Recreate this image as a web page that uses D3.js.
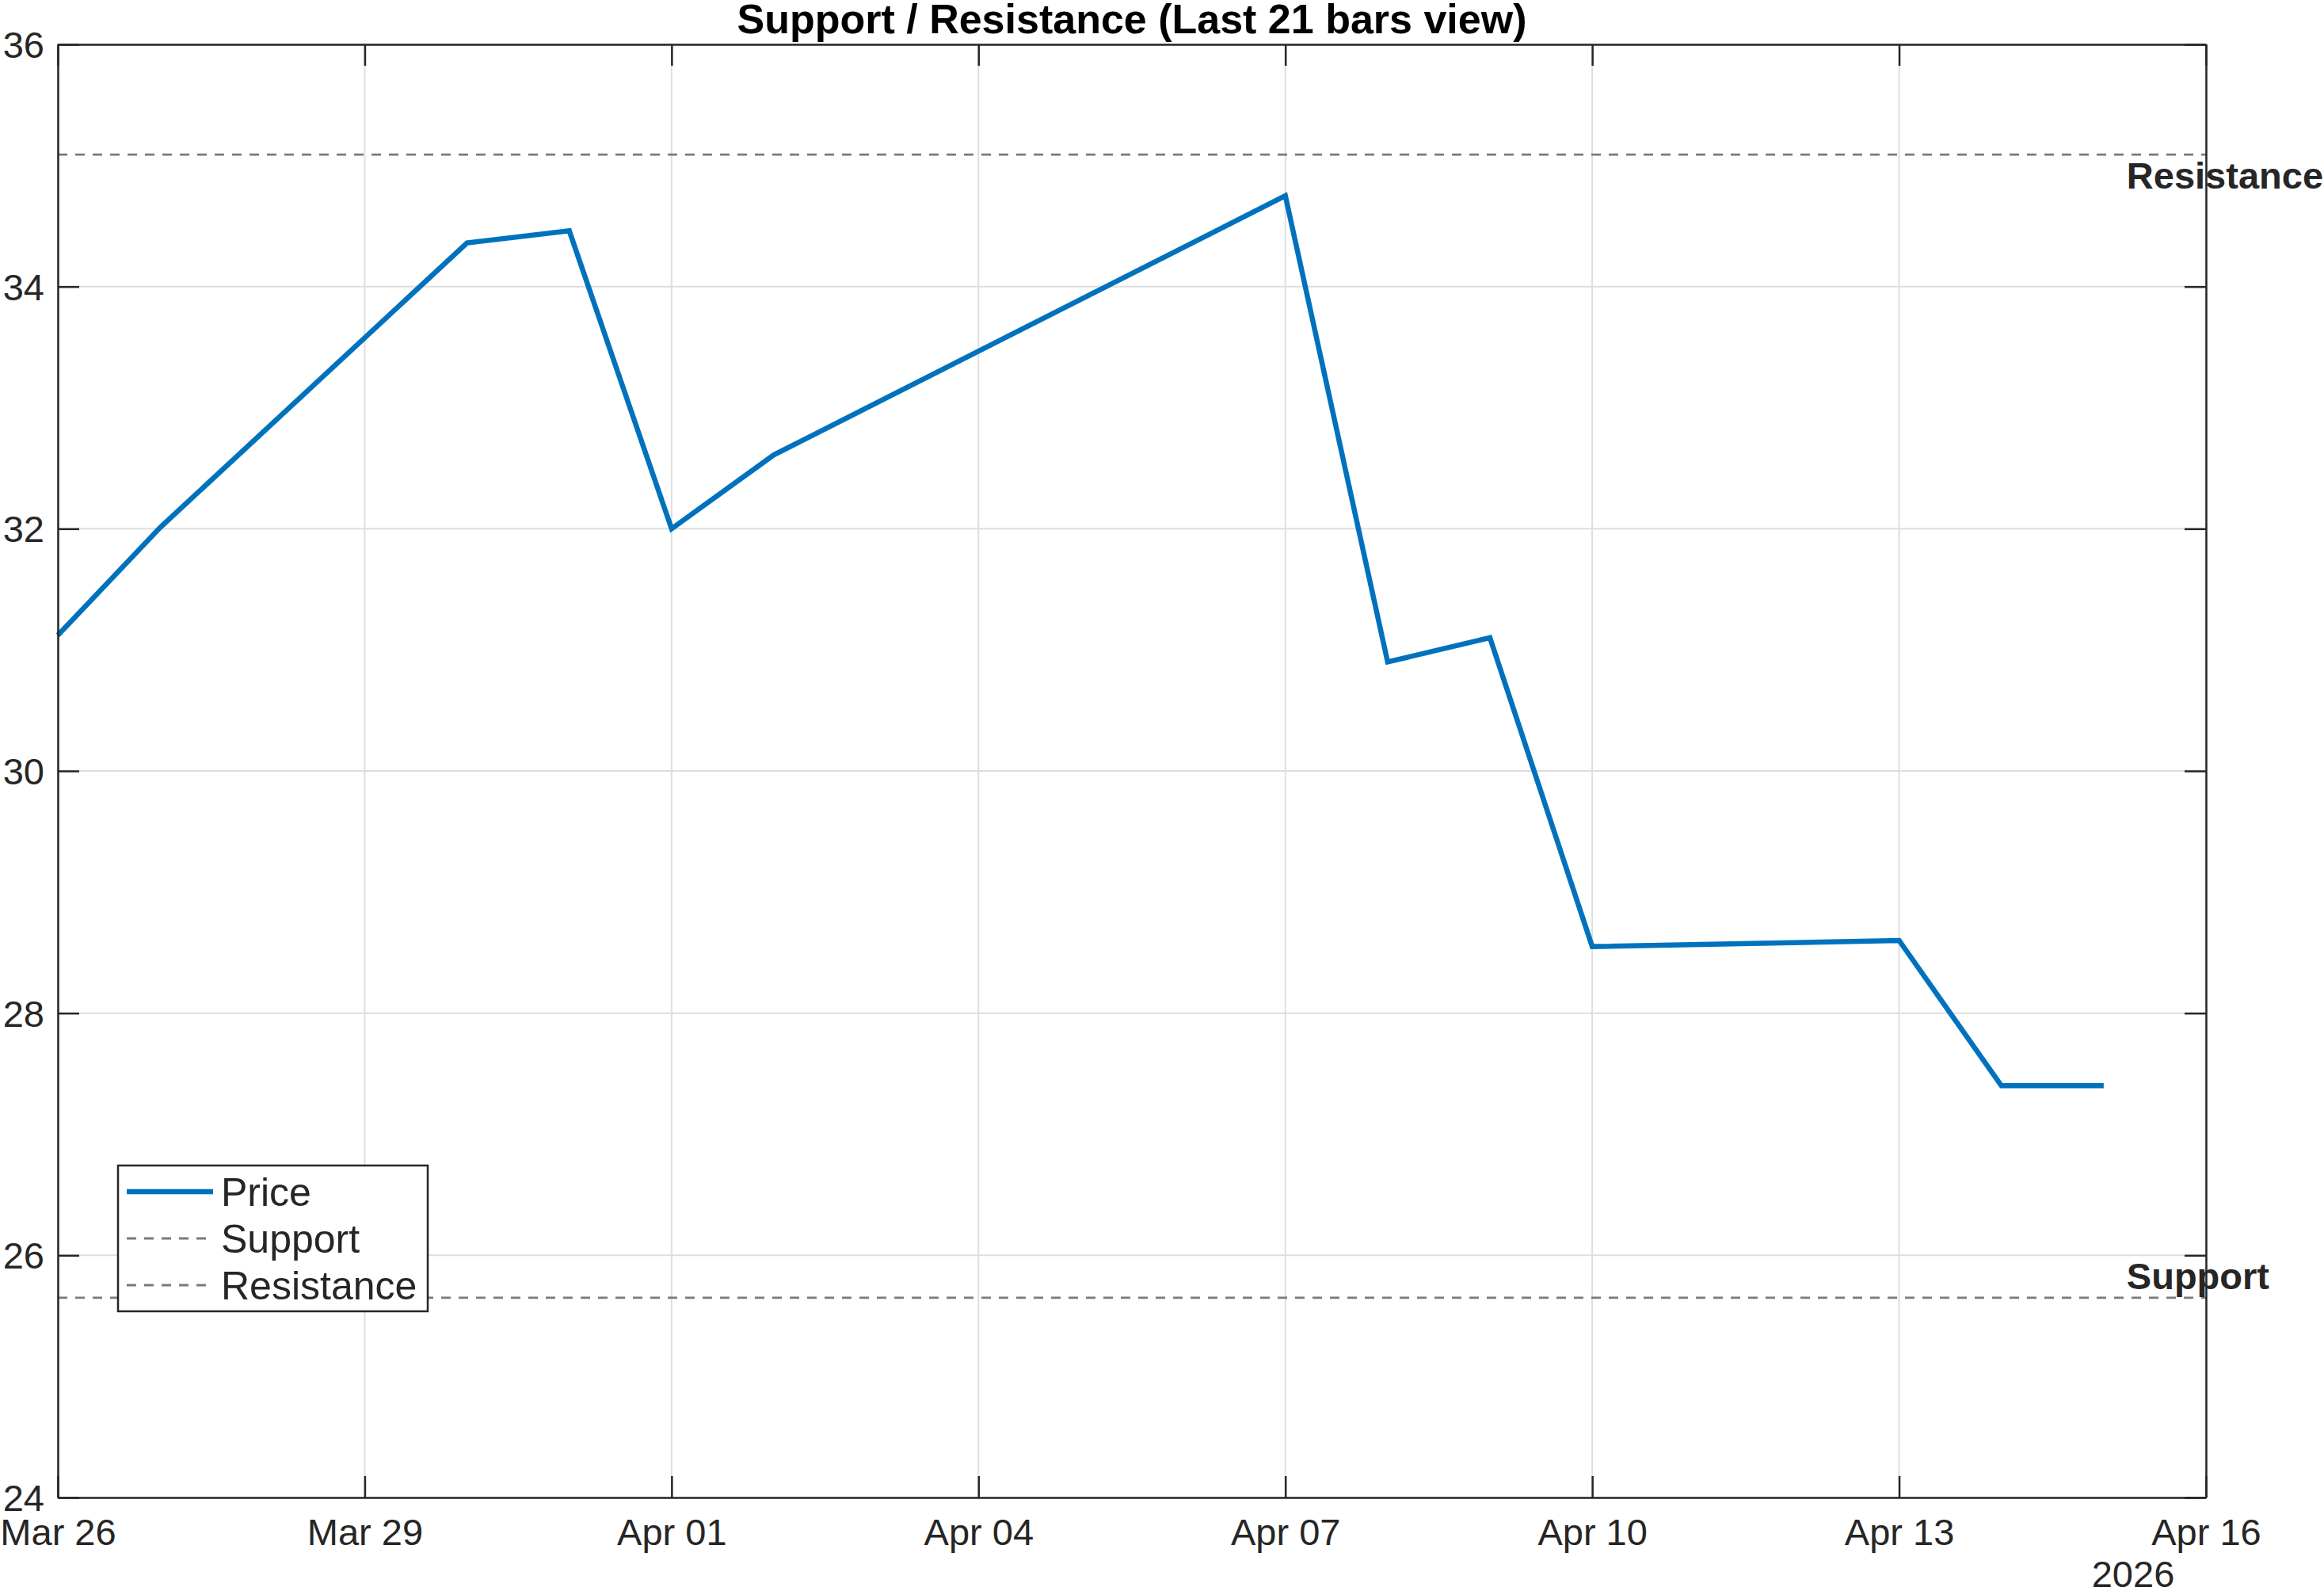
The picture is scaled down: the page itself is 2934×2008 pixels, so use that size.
<!DOCTYPE html>
<html>
<head>
<meta charset="utf-8">
<script src="https://cdn.jsdelivr.net/npm/d3@7"></script>
<style>
  html, body { margin: 0; padding: 0; background: #ffffff; }
  svg { display: block; font-family: "Liberation Sans", Arial, Helvetica, sans-serif; }
</style>
</head>
<body>
<svg id="chart" width="2934" height="2008"></svg>
<script>
// ---------------- data ----------------
const titleText = "Support / Resistance (Last 21 bars view)";
const dates = ["2026-03-26","2026-03-27","2026-03-30","2026-03-31","2026-04-01","2026-04-02",
               "2026-04-07","2026-04-08","2026-04-09","2026-04-10","2026-04-13","2026-04-14","2026-04-15"];
const prices = [31.12, 32.01, 34.36, 34.46, 32.00, 32.61, 34.75, 30.90, 31.10, 28.55, 28.60, 27.40, 27.40];
const supportLevel = 25.65;
const resistanceLevel = 35.09;
const xDomain = ["2026-03-26", "2026-04-16"];
const xTickDates = ["2026-03-26","2026-03-29","2026-04-01","2026-04-04","2026-04-07","2026-04-10","2026-04-13","2026-04-16"];
const yDomain = [24, 36];
const yTicks = [24, 26, 28, 30, 32, 34, 36];
const yearLabel = "2026";
const legendNames = ["Price", "Support", "Resistance"];
const levelNames = ["Resistance", "Support"];

// ---------------- layout ----------------
const W = 2934, H = 2008;
const margin = { left: 73, top: 56, right: 149, bottom: 118 };
const iw = W - margin.left - margin.right;
const ih = H - margin.top - margin.bottom;

const parse = d3.utcParse("%Y-%m-%d");
const x = d3.scaleUtc().domain(xDomain.map(parse)).range([0, iw]);
const y = d3.scaleLinear().domain(yDomain).range([ih, 0]);

const TEXT = "#262626";
const BLUE = "#0072BD";
const DASH = "#7a7a7a";
const GRID = "#dedede";
const tickFont = 47;
const tickLen = 27;
const priceWidth = 6.5;

const svg = d3.select("#chart");
svg.append("rect").attr("width", W).attr("height", H).attr("fill", "#fff");
const g = svg.append("g").attr("transform", `translate(${margin.left},${margin.top})`);

// grid
const xTicks = xTickDates.map(parse);
g.append("g").selectAll("line.gx").data(xTicks).join("line")
  .attr("x1", d => x(d)).attr("x2", d => x(d)).attr("y1", 0).attr("y2", ih)
  .attr("stroke", GRID).attr("stroke-width", 2);
g.append("g").selectAll("line.gy").data(yTicks).join("line")
  .attr("x1", 0).attr("x2", iw).attr("y1", d => y(d)).attr("y2", d => y(d))
  .attr("stroke", GRID).attr("stroke-width", 2);

// support / resistance lines
const levels = [resistanceLevel, supportLevel];
g.append("g").selectAll("line.lvl").data(levels).join("line")
  .attr("x1", 0).attr("x2", iw).attr("y1", d => y(d)).attr("y2", d => y(d))
  .attr("stroke", DASH).attr("stroke-width", 2.8).attr("stroke-dasharray", "12,10");

// price line
const pts = dates.map((d, i) => ({ date: parse(d), v: prices[i] }));
g.append("path").datum(pts)
  .attr("fill", "none").attr("stroke", BLUE).attr("stroke-width", priceWidth)
  .attr("stroke-linejoin", "miter").attr("stroke-miterlimit", 4)
  .attr("d", d3.line().x(d => x(d.date)).y(d => y(d.v)));

// axes (box with ticks on all four sides, inward)
const fmt = d3.utcFormat("%b %d");
const xAxisB = d3.axisBottom(x).tickValues(xTicks).tickFormat(fmt).tickSizeInner(-tickLen).tickSizeOuter(0).tickPadding(25);
const xAxisT = d3.axisTop(x).tickValues(xTicks).tickFormat("").tickSizeInner(-tickLen).tickSizeOuter(0);
const yAxisL = d3.axisLeft(y).tickValues(yTicks).tickFormat(d3.format("d")).tickSizeInner(-tickLen).tickSizeOuter(0).tickPadding(17);
const yAxisR = d3.axisRight(y).tickValues(yTicks).tickFormat("").tickSizeInner(-tickLen).tickSizeOuter(0);

function styleAxis(sel) {
  sel.select(".domain").attr("stroke", TEXT).attr("stroke-width", 2.5);
  sel.selectAll(".tick line").attr("stroke", TEXT).attr("stroke-width", 2.5);
  sel.selectAll(".tick text").attr("fill", TEXT).attr("font-size", tickFont)
     .attr("font-family", "'Liberation Sans', Arial, sans-serif");
}
const gxB = g.append("g").attr("transform", `translate(0,${ih})`).call(xAxisB).call(styleAxis);
gxB.selectAll(".tick text").attr("dy", null).attr("y", 60).attr("dominant-baseline", "auto");
g.append("g").call(xAxisT).call(styleAxis);
const gyL = g.append("g").call(yAxisL).call(styleAxis);
gyL.selectAll(".tick text").attr("dy", "0.35em");
g.append("g").attr("transform", `translate(${iw},0)`).call(yAxisR).call(styleAxis);

// year label under the last tick
g.append("text").attr("x", x(parse(xDomain[1])) - 92).attr("y", ih + 113)
  .attr("text-anchor", "middle").attr("fill", TEXT).attr("font-size", tickFont).text(yearLabel);

// level labels
const lastDate = parse(dates[dates.length - 1]);
g.append("text").attr("x", x(lastDate) + 29).attr("y", y(resistanceLevel) + 43)
  .attr("fill", TEXT).attr("font-size", 47).attr("font-weight", "bold").text(levelNames[0]);
g.append("text").attr("x", x(lastDate) + 29).attr("y", y(supportLevel) - 11)
  .attr("fill", TEXT).attr("font-size", 47).attr("font-weight", "bold").text(levelNames[1]);

// title
svg.append("text").attr("x", margin.left + iw / 2).attr("y", 42)
  .attr("text-anchor", "middle").attr("fill", "#000").attr("font-size", 52).attr("font-weight", "bold")
  .text(titleText);

// legend
const legFont = 50;
const leg = svg.append("g").attr("transform", "translate(149,1471)");
leg.append("rect").attr("width", 391).attr("height", 184).attr("fill", "#fff")
  .attr("stroke", TEXT).attr("stroke-width", 2.5);
const legStyles = [
  { color: BLUE, width: priceWidth, dash: null },
  { color: DASH, width: 2.8, dash: "12,10" },
  { color: DASH, width: 2.8, dash: "12,10" }
];
const rows = leg.selectAll("g.row").data(legendNames).join("g")
  .attr("transform", (d, i) => `translate(0,${33 + i * 59})`);
rows.append("line").attr("x1", 11).attr("x2", 120).attr("y1", 0).attr("y2", 0)
  .attr("stroke", (d, i) => legStyles[i].color).attr("stroke-width", (d, i) => legStyles[i].width)
  .attr("stroke-dasharray", (d, i) => legStyles[i].dash);
rows.append("text").attr("x", 130).attr("y", legFont * 0.36).attr("fill", TEXT)
  .attr("font-size", legFont).text(d => d);
</script>
</body>
</html>
